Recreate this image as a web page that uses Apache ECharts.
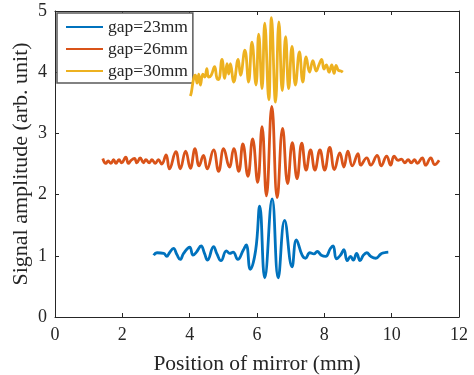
<!DOCTYPE html>
<html>
<head>
<meta charset="utf-8">
<script src="https://cdn.jsdelivr.net/npm/echarts@6/dist/echarts.min.js"></script>
<style>
  html, body { margin: 0; padding: 0; background: #fff; }
  #chart { width: 474px; height: 375px; }
</style>
</head>
<body>
<div id="chart"></div>
<script>
// Interferogram traces: mirror position (mm) vs signal amplitude (arb. unit)
const seriesNames = ['gap=23mm', 'gap=26mm', 'gap=30mm'];
const seriesColors = ['#0072BD', '#D95319', '#EDB120'];

const gap23X = [2.93, 3.03, 3.23, 3.32, 3.40, 3.52, 3.62, 3.72, 3.82, 4.00, 4.10, 4.20, 4.34, 4.44, 4.53, 4.71, 4.81, 4.93, 5.09, 5.19, 5.29, 5.43, 5.59, 5.68, 5.80, 5.96, 6.08, 6.23, 6.45, 6.63, 6.82, 7.04, 7.17, 7.34, 7.44, 7.57, 7.69, 7.79, 7.91, 8.04, 8.18, 8.26, 8.36, 8.48, 8.58, 8.68, 8.78, 8.86, 8.96, 9.06, 9.16, 9.26, 9.38, 9.53, 9.68, 9.78, 9.90];
const gap23Y = [1.01, 1.05, 1.04, 0.99, 1.05, 1.12, 1.02, 0.94, 1.04, 1.14, 1.01, 1.06, 1.16, 1.04, 0.93, 1.15, 1.03, 0.92, 1.08, 1.04, 1.06, 0.94, 1.09, 1.18, 0.78, 1.09, 1.81, 0.64, 1.93, 0.64, 1.58, 0.82, 1.26, 1.01, 0.96, 1.05, 1.03, 1.07, 1.01, 0.99, 1.12, 1.16, 0.95, 1.01, 1.10, 0.92, 0.99, 0.93, 1.04, 0.92, 1.01, 1.05, 0.99, 0.96, 1.03, 1.05, 1.06];

const gap26X = [1.42, 1.51, 1.58, 1.66, 1.74, 1.81, 1.90, 1.98, 2.10, 2.18, 2.26, 2.36, 2.43, 2.53, 2.63, 2.70, 2.80, 2.88, 2.98, 3.07, 3.17, 3.30, 3.40, 3.59, 3.72, 3.88, 4.02, 4.16, 4.28, 4.41, 4.52, 4.71, 4.86, 5.01, 5.18, 5.31, 5.46, 5.58, 5.73, 5.87, 6.02, 6.15, 6.28, 6.44, 6.60, 6.76, 6.91, 7.05, 7.19, 7.33, 7.46, 7.59, 7.72, 7.87, 8.01, 8.16, 8.30, 8.46, 8.58, 8.70, 8.83, 9.00, 9.08, 9.26, 9.38, 9.57, 9.69, 9.85, 9.97, 10.07, 10.19, 10.29, 10.39, 10.49, 10.58, 10.68, 10.76, 10.91, 11.01, 11.16, 11.28, 11.41];
const gap26Y = [2.59, 2.51, 2.55, 2.51, 2.57, 2.51, 2.57, 2.52, 2.61, 2.51, 2.56, 2.59, 2.52, 2.60, 2.52, 2.57, 2.52, 2.57, 2.51, 2.57, 2.50, 2.65, 2.42, 2.70, 2.42, 2.71, 2.43, 2.75, 2.47, 2.64, 2.42, 2.73, 2.38, 2.75, 2.45, 2.75, 2.38, 2.83, 2.30, 2.91, 2.20, 3.11, 1.98, 3.44, 1.95, 3.08, 2.18, 2.85, 2.26, 2.84, 2.40, 2.73, 2.40, 2.73, 2.40, 2.77, 2.41, 2.68, 2.45, 2.71, 2.47, 2.67, 2.48, 2.60, 2.48, 2.64, 2.47, 2.63, 2.48, 2.63, 2.56, 2.58, 2.52, 2.57, 2.52, 2.57, 2.51, 2.60, 2.48, 2.60, 2.49, 2.56];

const gap30X = [4.02, 4.05, 4.12, 4.17, 4.22, 4.27, 4.32, 4.39, 4.45, 4.51, 4.56, 4.64, 4.74, 4.81, 4.86, 4.96, 5.04, 5.11, 5.16, 5.21, 5.31, 5.44, 5.51, 5.64, 5.75, 5.85, 5.97, 6.05, 6.15, 6.23, 6.35, 6.43, 6.55, 6.65, 6.75, 6.85, 6.94, 7.04, 7.14, 7.26, 7.36, 7.46, 7.56, 7.66, 7.76, 7.84, 7.92, 7.99, 8.06, 8.14, 8.22, 8.29, 8.35, 8.42, 8.49, 8.55];
const gap30Y = [3.61, 3.67, 3.90, 3.95, 3.82, 3.97, 3.79, 3.97, 3.92, 4.06, 3.92, 3.95, 4.09, 3.90, 3.88, 4.21, 3.90, 4.14, 3.97, 4.14, 3.84, 4.21, 3.95, 4.36, 3.84, 4.49, 3.79, 4.62, 3.73, 4.80, 3.55, 4.89, 3.51, 4.82, 3.70, 4.58, 3.73, 4.42, 3.79, 4.33, 3.84, 4.25, 4.00, 4.19, 4.02, 4.12, 4.21, 4.05, 4.12, 4.00, 4.12, 3.98, 4.11, 4.03, 4.02, 4.00];

const xTicks = { min: 0, max: 12, step: 2 };
const yTicks = { min: 0, max: 5, step: 1 };

const traces = [[gap23X, gap23Y], [gap26X, gap26Y], [gap30X, gap30Y]];

const ink = '#262626';
const serif = '"Liberation Serif", "Times New Roman", serif';

const chart = echarts.init(document.getElementById('chart'), null, { renderer: 'canvas' });

function boxAxis(extra) {
  return Object.assign({
    type: 'value',
    axisLine: { show: true, onZero: false, lineStyle: { color: ink, width: 1 } },
    axisTick: { show: true, inside: true, length: 4, lineStyle: { color: ink, width: 1 } },
    splitLine: { show: false },
    axisLabel: { show: false }
  }, extra);
}

const option = {
  animation: false,
  backgroundColor: '#fff',
  grid: { left: 55, right: 15, top: 11, bottom: 58, containLabel: false, outerBoundsMode: 'none' },
  legend: {
    orient: 'vertical',
    left: 57,
    top: 13,
    padding: [5, 5, 3, 8],
    itemWidth: 37,
    itemHeight: 14,
    itemGap: 4,
    backgroundColor: '#fff',
    borderColor: '#5a5a5a',
    borderWidth: 1.5,
    itemStyle: { opacity: 0 },
    textStyle: { fontFamily: serif, fontSize: 17.5, color: ink },
    data: seriesNames
  },
  xAxis: [
    boxAxis({
      position: 'bottom',
      min: xTicks.min, max: xTicks.max, interval: xTicks.step,
      name: 'Position of mirror (mm)',
      nameLocation: 'middle',
      nameGap: 36,
      nameMoveOverlap: false,
      nameTextStyle: { fontFamily: serif, fontSize: 21.5, color: ink },
      axisLabel: { show: true, margin: 9, fontFamily: serif, fontSize: 18, color: ink }
    }),
    boxAxis({ position: 'top', min: xTicks.min, max: xTicks.max, interval: xTicks.step })
  ],
  yAxis: [
    boxAxis({
      position: 'left',
      min: yTicks.min, max: yTicks.max, interval: yTicks.step,
      name: 'Signal amplitude (arb. unit)',
      nameLocation: 'middle',
      nameGap: 23,
      nameMoveOverlap: false,
      nameTextStyle: { fontFamily: serif, fontSize: 22, color: ink },
      axisLabel: { show: true, margin: 8, fontFamily: serif, fontSize: 18, color: ink }
    }),
    boxAxis({ position: 'right', min: yTicks.min, max: yTicks.max, interval: yTicks.step })
  ],
  series: traces.map(function (t, i) {
    return {
      name: seriesNames[i],
      type: 'line',
      xAxisIndex: 0,
      yAxisIndex: 0,
      data: t[0].map(function (x, k) { return [x, t[1][k]]; }),
      symbol: 'none',
      smooth: 0.45,
      lineStyle: { color: seriesColors[i], width: 2.8 },
      itemStyle: { color: seriesColors[i] },
      z: 2 + i
    };
  })
};

chart.setOption(option);
</script>
</body>
</html>
